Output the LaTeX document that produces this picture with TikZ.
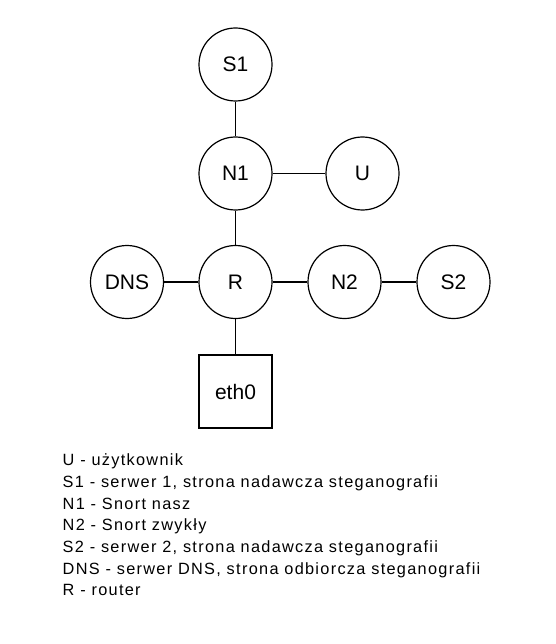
\documentclass[tikz,border=0pt]{standalone}
\usepackage{fontspec}
\setmainfont{Liberation Sans}
\newfontfamily\legendfont[LetterSpace=8]{Liberation Sans}
\begin{document}
\begin{tikzpicture}[x=1pt,y=-1pt,
  every node/.style={font=\fontsize{21}{25}\selectfont},
  host/.style={draw=black,line width=1.2pt,circle,minimum size=73pt,inner sep=0pt},
  port/.style={draw=black,line width=1.2pt,rectangle,minimum size=73pt,inner sep=0pt},
  link/.style={draw=black,line width=1.2pt},
  legend/.style={anchor=base west,inner sep=0pt,font=\legendfont\fontsize{16.3}{20}\selectfont}]
\useasboundingbox (0,0) rectangle (555,644);
\node[host] (S1) at (235.5,64.5) {S1};
\node[host] (N1) at (235.5,173.5) {N1};
\node[host] (U) at (362.5,173.5) {U};
\node[host] (R) at (235.5,282) {R};
\node[host] (DNS) at (127,282) {DNS};
\node[host] (N2) at (344.5,282) {N2};
\node[host] (S2) at (453.5,282) {S2};
\node[port] (eth) at (235.5,391.5) {eth0};
\draw[link] (S1) -- (N1);
\draw[link] (N1) -- (U);
\draw[link] (N1) -- (R);
\draw[link] (DNS) -- (R);
\draw[link] (R) -- (N2);
\draw[link] (N2) -- (S2);
\draw[link] (R) -- (eth);
\node[legend] (l1) at (62.5,465.7) {U - użytkownik};
\node[legend] (l2) at (62.5,487.4) {S1 - serwer 1, strona nadawcza steganografii};
\node[legend] (l3) at (62.5,509.0) {N1 - Snort nasz};
\node[legend] (l4) at (62.5,530.7) {N2 - Snort zwykły};
\node[legend] (l5) at (62.5,552.4) {S2 - serwer 2, strona nadawcza steganografii};
\node[legend] (l6) at (62.5,574.0) {DNS - serwer DNS, strona odbiorcza steganografii};
\node[legend] (l7) at (62.5,595.7) {R - router};
\end{tikzpicture}
\end{document}
